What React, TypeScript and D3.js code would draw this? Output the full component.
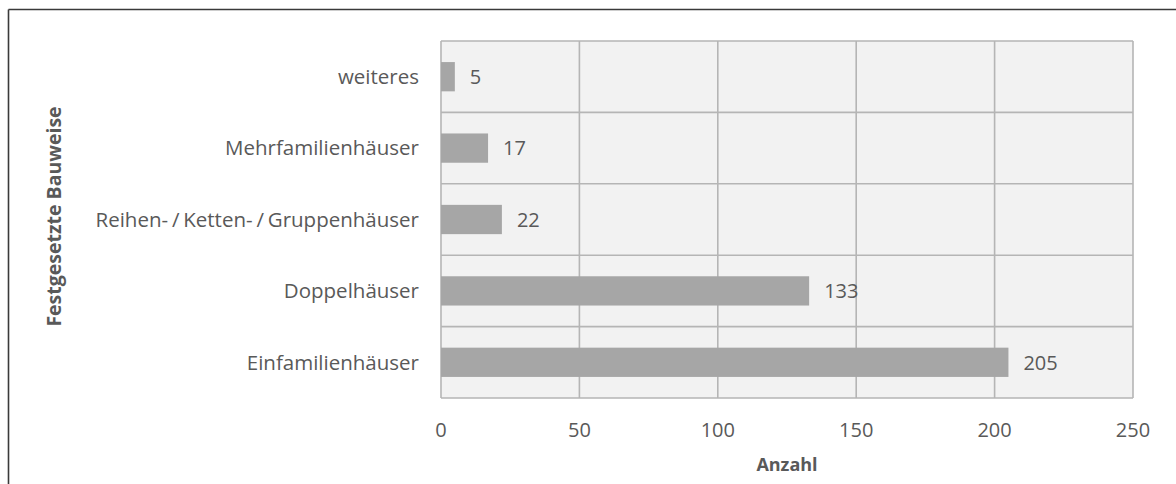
import React, { useEffect, useRef } from 'react';
import * as d3 from 'd3';

const categories = [
  'weiteres',
  'Mehrfamilienhäuser',
  'Reihen- / Ketten- / Gruppenhäuser',
  'Doppelhäuser',
  'Einfamilienhäuser',
];
const values = [5, 17, 22, 133, 205];
const xTicks = [0, 50, 100, 150, 200, 250];

const FONT = "'Open Sans', 'Noto Sans', sans-serif";
const TEXT = '#595959';

const App = () => {
  const svgRef = useRef(null);

  useEffect(() => {
    if (!svgRef.current) return;
    const width = 1176;
    const height = 484;
    const margin = { top: 41, right: 43, bottom: 86, left: 441 };

    const svg = d3.select(svgRef.current);
    svg.selectAll('*').remove();
    svg.attr('width', width).attr('height', height);

    // outer frame (only top and left visible)
    svg.append('line')
      .attr('x1', 8.5).attr('x2', width).attr('y1', 9.5).attr('y2', 9.5)
      .attr('stroke', '#3a3a3a').attr('stroke-width', 1.6);
    svg.append('line')
      .attr('x1', 8.5).attr('x2', 8.5).attr('y1', 9.5).attr('y2', height)
      .attr('stroke', '#3a3a3a').attr('stroke-width', 1.6);

    const innerW = width - margin.left - margin.right;
    const innerH = height - margin.top - margin.bottom;

    const x = d3.scaleLinear().domain([0, 250]).range([0, innerW]);
    const y = d3.scaleBand().domain(categories).range([0, innerH]).paddingInner(0.59).paddingOuter(0.295);
    const yb = d3.scaleBand().domain(categories).range([0, innerH]);

    const g = svg.append('g').attr('transform', `translate(${margin.left},${margin.top})`);

    g.append('rect')
      .attr('width', innerW).attr('height', innerH)
      .attr('fill', '#f2f2f2');

    // vertical grid
    g.selectAll('.vgrid')
      .data(xTicks)
      .enter()
      .append('line')
      .attr('x1', d => x(d)).attr('x2', d => x(d))
      .attr('y1', 0).attr('y2', innerH)
      .attr('stroke', '#b5b5b5').attr('stroke-width', 1.6);

    // horizontal grid at band boundaries
    const hs = categories.map(c => yb(c)).concat([innerH]);
    g.selectAll('.hgrid')
      .data(hs)
      .enter()
      .append('line')
      .attr('x1', 0).attr('x2', innerW)
      .attr('y1', d => d).attr('y2', d => d)
      .attr('stroke', '#b5b5b5').attr('stroke-width', 1.6);

    // bars
    g.selectAll('.bar')
      .data(values)
      .enter()
      .append('rect')
      .attr('x', 0)
      .attr('y', (d, i) => y(categories[i]))
      .attr('width', d => x(d))
      .attr('height', y.bandwidth())
      .attr('fill', '#a6a6a6');

    // value labels
    g.selectAll('.val')
      .data(values)
      .enter()
      .append('text')
      .attr('x', d => x(d) + 15)
      .attr('y', (d, i) => y(categories[i]) + y.bandwidth() / 2)
      .attr('dy', '0.36em')
      .attr('font-family', FONT)
      .attr('font-size', '20px')
      .attr('fill', TEXT)
      .text(d => d);

    // category labels
    g.selectAll('.cat')
      .data(categories)
      .enter()
      .append('text')
      .attr('x', -22)
      .attr('y', d => y(d) + y.bandwidth() / 2)
      .attr('dy', '0.36em')
      .attr('text-anchor', 'end')
      .attr('font-family', FONT)
      .attr('font-size', '20.5px')
      .attr('word-spacing', '-1.5px')
      .attr('fill', TEXT)
      .text(d => d);

    // x tick labels
    g.selectAll('.tick')
      .data(xTicks)
      .enter()
      .append('text')
      .attr('x', d => x(d))
      .attr('y', innerH + 39)
      .attr('text-anchor', 'middle')
      .attr('font-family', FONT)
      .attr('font-size', '20px')
      .attr('fill', TEXT)
      .text(d => d);

    // axis titles
    g.append('text')
      .attr('x', innerW / 2)
      .attr('y', innerH + 73)
      .attr('text-anchor', 'middle')
      .attr('font-family', FONT)
      .attr('font-size', '18px')
      .attr('font-weight', 'bold')
      .attr('fill', TEXT)
      .text('Anzahl');

    svg.append('text')
      .attr('transform', `translate(61, ${margin.top + innerH / 2 - 3}) rotate(-90)`)
      .attr('text-anchor', 'middle')
      .attr('font-family', FONT)
      .attr('font-size', '19.5px')
      .attr('font-weight', 'bold')
      .attr('fill', TEXT)
      .text('Festgesetzte Bauweise');
  }, []);

  return (
    <div style={{ position: 'absolute', left: 0, top: 0 }}>
      <svg ref={svgRef}></svg>
    </div>
  );
};

export default App;
